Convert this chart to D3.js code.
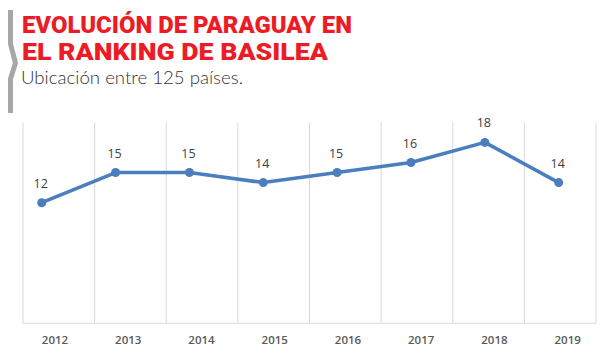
<!DOCTYPE html>
<html><head><meta charset="utf-8">
<script src="https://cdn.jsdelivr.net/npm/d3@7"></script>
<style>body{margin:0;background:#fff}svg{display:block}</style>
</head><body>
<svg id="c" width="600" height="355"></svg>
<script>
const years = ["2012","2013","2014","2015","2016","2017","2018","2019"];
const positions = [12, 15, 15, 14, 15, 16, 18, 14];
const titleLines = ["EVOLUCIÓN DE PARAGUAY EN", "EL RANKING DE BASILEA"];
const subtitle = "Ubicación entre 125 países.";

const svg = d3.select("#c");

// decorative left bar with chevron
svg.append("path")
  .attr("d", "M10.5,10 L10.5,44 L15.5,63 L10.5,79 L10.5,113")
  .attr("fill", "none").attr("stroke", "#a6a7a9").attr("stroke-width", 5);

svg.selectAll("text.title").data(titleLines).join("text")
  .attr("class", "title")
  .attr("x", 22).attr("y", (d, i) => 33 + i * 26.5)
  .attr("font-family", "Roboto, 'Liberation Sans', sans-serif")
  .attr("font-weight", 900).attr("font-size", 23.5)
  .attr("fill", "#ed1c24")
  .attr("textLength", (d, i) => i === 0 ? 330 : 306)
  .attr("lengthAdjust", "spacingAndGlyphs")
  .text(d => d);

svg.append("text").attr("x", 21).attr("y", 84)
  .attr("font-family", "Lato, 'Open Sans', sans-serif")
  .attr("font-weight", 300).attr("font-size", 18).attr("fill", "#333")
  .attr("textLength", 222).attr("lengthAdjust", "spacingAndGlyphs")
  .text(subtitle);

const plotTop = 122.3, plotBottom = 323.3;
const y = d3.scaleLinear().domain([0, 20]).range([plotBottom, plotTop]);
const xPt = d3.scalePoint().domain(years).range([41.7, 558.7]);
const xLab = d3.scalePoint().domain(years).range([55, 567.7]);
const grid = d3.scaleLinear().domain([0, years.length]).range([23, 596]);

// vertical gridlines
svg.append("g").selectAll("line").data(d3.range(years.length + 1)).join("line")
  .attr("x1", d => grid(d)).attr("x2", d => grid(d))
  .attr("y1", plotTop).attr("y2", plotBottom)
  .attr("stroke", "#d9d9d9").attr("stroke-width", 1);

// baseline
svg.append("line").attr("x1", grid(0)).attr("x2", grid(years.length))
  .attr("y1", plotBottom).attr("y2", plotBottom)
  .attr("stroke", "#d9d9d9").attr("stroke-width", 1);

// year labels
svg.append("g").selectAll("text").data(years).join("text")
  .attr("x", d => xLab(d)).attr("y", 344)
  .attr("text-anchor", "middle")
  .attr("font-family", "'Open Sans', sans-serif").attr("font-weight", 600)
  .attr("font-size", 11.5).attr("fill", "#595959")
  .text(d => d);

const data = years.map((yr, i) => ({yr, v: positions[i]}));

svg.append("path").datum(data)
  .attr("d", d3.line().x(d => xPt(d.yr)).y(d => y(d.v)))
  .attr("fill", "none").attr("stroke", "#4a7ebf").attr("stroke-width", 3.5)
  .attr("stroke-linejoin", "round");

svg.append("g").selectAll("circle").data(data).join("circle")
  .attr("cx", d => xPt(d.yr)).attr("cy", d => y(d.v)).attr("r", 4.5)
  .attr("fill", "#4a7ebf");

svg.append("g").selectAll("text").data(data).join("text")
  .attr("x", d => xPt(d.yr) - 1).attr("y", d => y(d.v) - 15)
  .attr("text-anchor", "middle")
  .attr("font-family", "'Open Sans', sans-serif").attr("font-weight", 400)
  .attr("font-size", 12.5).attr("fill", "#404040")
  .text(d => d.v);
</script>
</body></html>
